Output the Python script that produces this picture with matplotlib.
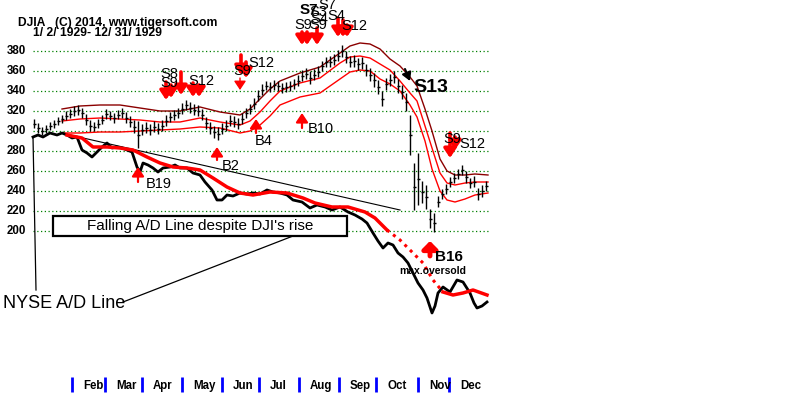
import numpy as np
import matplotlib
matplotlib.use("Agg")
import matplotlib.pyplot as plt
from matplotlib.patches import Rectangle

plt.rcParams['font.family'] = ['Liberation Sans', 'DejaVu Sans']

# ---------------- data ----------------
# x axis: chart position of each trading session (Jan 2 ... Dec 31, 1929)
bar_x = np.arange(34, 487, 4)
dji_high = [312, 308, 304, 306, 309, 311, 314, 316, 320, 322,
            325, 326, 323, 317, 311, 309, 312, 316, 322, 320,
            318, 321, 323, 319, 315, 311, 310, 307, 309, 307,
            310, 308, 311, 316, 319, 321, 323, 328, 331, 329,
            327, 326, 322, 314, 309, 305, 304, 308, 311, 316,
            315, 313, 318, 323, 327, 333, 341, 347, 350, 349,
            351, 350, 348, 349, 350, 352, 356, 361, 363, 360,
            362, 365, 370, 374, 375, 377, 381, 386, 380, 375,
            376, 373, 374, 367, 363, 358, 351, 340, 353, 357,
            360, 352, 346, 338, 316, 268, 278, 250, 246, 222,
            218, 235, 242, 247, 254, 258, 262, 266, 260, 253,
            255, 243, 246, 250]
dji_low = [303, 298, 296, 298, 301, 303, 306, 308, 311, 313,
           315, 316, 313, 306, 300, 300, 303, 307, 312, 311,
           308, 312, 313, 308, 304, 298, 283, 296, 298, 296,
           299, 297, 300, 305, 309, 311, 313, 317, 321, 318,
           316, 315, 311, 302, 297, 293, 291, 297, 300, 305,
           304, 302, 307, 313, 317, 322, 330, 336, 341, 339,
           341, 340, 338, 339, 340, 342, 345, 350, 352, 347,
           351, 354, 360, 364, 364, 366, 370, 374, 368, 364,
           364, 361, 362, 355, 350, 344, 337, 325, 341, 345,
           348, 338, 332, 320, 276, 221, 226, 228, 222, 203,
           199, 224, 232, 237, 244, 248, 252, 256, 248, 243,
           244, 231, 234, 240]

band_x = [62, 80, 100, 120, 140, 160, 180, 200, 220, 240, 250, 260, 270, 280, 300, 320,
          340, 350, 360, 370, 380, 390, 400, 410, 417, 425, 432, 440, 447, 455, 465, 475, 488]
band_upper = [322, 325, 326, 326, 323, 320, 320, 324, 319, 316, 322, 332, 342, 350, 358, 364,
              378, 385, 388, 387, 382, 372, 365, 354, 345, 322, 300, 272, 260, 256, 256, 257, 256]
band_mid = [310, 312, 313, 312, 311, 309, 309, 313, 309, 306, 310, 319, 330, 340, 348, 353,
            368, 374, 375, 373, 367, 361, 350, 338, 330, 305, 283, 258, 248, 246, 248, 249, 249]
band_lower = [298, 298, 299, 299, 300, 301, 302, 304, 303, 298, 300, 306, 315, 326, 334, 338,
              352, 359, 361, 360, 352, 347, 340, 326, 314, 290, 262, 240, 231, 229, 232, 236, 238]

ad_x = [33, 38, 43, 50, 57, 62, 67, 72, 77, 82, 87, 92, 97, 102, 107, 112, 117, 122, 127, 132,
        137, 140, 143, 148, 153, 158, 163, 170, 175, 180, 187, 193, 200, 205, 212, 217, 222, 227,
        233, 240, 247, 253, 260, 267, 273, 280, 287, 293, 302, 310, 317, 325, 332, 340, 348, 355,
        362, 367, 373, 378, 383, 388, 393, 398, 403, 408, 413, 418, 423, 427, 432, 435, 438, 443,
        450, 457, 463, 470, 474, 477, 482, 487]
ad_line = [294, 296, 294, 298, 296, 298, 296, 293, 294, 281, 278, 274, 279, 284, 288, 283, 284, 283,
           281, 279, 264, 259, 268, 266, 263, 259, 263, 264, 266, 263, 263, 258, 256, 249, 241, 231,
           231, 236, 235, 238, 237, 238, 237, 241, 239, 238, 236, 231, 229, 223, 226, 224, 221, 224,
           219, 216, 212, 208, 198, 190, 183, 188, 186, 178, 174, 168, 158, 148, 141, 133, 118, 125,
           138, 144, 139, 151, 149, 138, 128, 123, 125, 129]

adma_x = [67, 82, 93, 107, 120, 133, 147, 160, 173, 187, 200, 213, 227, 240, 253, 270, 287, 303,
          315, 332, 348, 365, 375, 387, 400, 413, 423, 433, 443, 453, 463, 473, 487]
ad_ma = [296, 293, 284, 284, 283, 281, 274, 268, 264, 263, 261, 253, 244, 238, 236, 239, 238, 233,
         228, 224, 224, 219, 213, 201, 191, 178, 168, 151, 139, 136, 138, 141, 136]

grid_values = [200, 220, 240, 260, 280, 300, 320, 340, 360, 380]
month_starts = [72, 105, 142, 182, 222, 259, 299, 339, 376, 418, 449]
month_labels = ["Feb", "Mar", "Apr", "May", "Jun", "Jul", "Aug", "Sep", "Oct", "Nov", "Dec"]

# ---------------- figure ----------------
fig = plt.figure(figsize=(8.0, 3.97), dpi=100)
ax = fig.add_axes([0, 0, 1, 1])
ax.set_xlim(0, 800)
ax.set_ylim(34, 431)
ax.axis('off')

# grid
ax.hlines(grid_values, 33, 489, colors='#008000', linestyles=(0, (1, 2)), lw=0.9, zorder=1)
for v in grid_values:
    ax.text(26, v, str(v), ha='right', va='center', fontsize=8.3, fontweight='bold', color='black')

# titles
ax.text(18, 408, "DJIA   (C) 2014, www.tigersoft.com", fontsize=8.7, fontweight='bold',
        ha='left', va='center')
ax.text(33, 398, "1/ 2/ 1929- 12/ 31/ 1929", fontsize=8.7, fontweight='bold',
        ha='left', va='center')

# bands
ax.plot(band_x, band_upper, color='#8B0000', lw=1.0, zorder=2)
ax.plot(band_x, band_mid, color='#FF0000', lw=1.0, zorder=2)
ax.plot(band_x, band_lower, color='#FF0000', lw=1.0, zorder=2)

# price bars
hi = np.array(dji_high)
lo = np.array(dji_low)
ax.vlines(bar_x, lo, hi, colors='black', lw=1.0, zorder=3)
ax.hlines((hi + lo) / 2.0, bar_x - 1.5, bar_x + 1.5, colors='black', lw=1.0, zorder=3)

# A/D line and its moving average
ax.plot(ad_x, ad_line, color='black', lw=2.0, zorder=4)
adma_x_arr = np.array(adma_x)
ad_ma_arr = np.array(ad_ma)
s1 = adma_x_arr <= 387
s2 = (adma_x_arr >= 387) & (adma_x_arr <= 443)
s3 = adma_x_arr >= 443
ax.plot(adma_x_arr[s1], ad_ma_arr[s1], color='#FF0000', lw=2.5, zorder=5)
ax.plot(adma_x_arr[s2], ad_ma_arr[s2], color='#FF0000', lw=2.2, ls=(0, (1, 1.5)), zorder=5)
ax.plot(adma_x_arr[s3], ad_ma_arr[s3], color='#FF0000', lw=2.5, zorder=5)

# trend line of A/D peaks
ax.plot([70, 400], [296, 221], color='black', lw=0.8, zorder=4)

# annotation box
ax.add_patch(Rectangle((53, 195), 294, 20, facecolor='white', edgecolor='black', lw=1.6, zorder=6))
ax.text(200, 205, "Falling A/D Line despite DJI's rise", fontsize=11, ha='center', va='center', zorder=7)

# NYSE A/D label and pointers
ax.text(3, 127, "NYSE A/D Line", fontsize=13, ha='left', va='center')
ax.plot([36, 33], [141, 294], color='black', lw=0.9)
ax.plot([123, 293], [129, 195], color='black', lw=0.9)

# signals
def arrow(x, y0, y1, color='red', lw=2.6, hw=0.4, hl=0.6, ms=9):
    ax.annotate('', xy=(x, y1), xytext=(x, y0),
                arrowprops=dict(arrowstyle=f'-|>,head_width={hw},head_length={hl}',
                                color=color, lw=lw, shrinkA=0, shrinkB=0, mutation_scale=ms),
                zorder=8)

for x, y0, y1 in [(166, 349, 331), (171, 346, 333), (181, 359, 336), (193, 348, 334), (199, 346, 334),
                  (241, 376, 356), (246, 369, 353), (302, 399, 386), (307, 399, 386), (317, 403, 386),
                  (338, 413, 394), (343, 411, 394), (347, 406, 394), (450, 298, 273), (455, 294, 281)]:
    arrow(x, y0, y1)
arrow(240, 353, 341, lw=1.0)
for x, y0, y1 in [(138, 249, 264), (217, 271, 284), (256, 298, 312), (302, 303, 318)]:
    arrow(x, y0, y1, lw=1.6)
arrow(430, 175, 190, lw=3.5, hw=0.5, hl=0.5)
ax.annotate('', xy=(410, 350), xytext=(405, 362),
            arrowprops=dict(arrowstyle='-|>,head_width=0.35,head_length=0.6', color='black', lw=1.5,
                            shrinkA=0, shrinkB=0, mutation_scale=8))

sig_font = 10.5
for txt, x, y in [("S8", 160, 357), ("S9", 160, 348), ("S12", 188, 350),
                  ("S9", 233, 360), ("S12", 248, 368),
                  ("S9", 294, 406), ("S9", 309, 406), ("S4", 310, 412), ("S4", 327, 415),
                  ("S12", 341, 405),
                  ("B4", 255, 290), ("B10", 308, 302), ("B2", 222, 265), ("B19", 146, 247),
                  ("S9", 443, 292), ("S12", 459, 287)]:
    ax.text(x, y, txt, fontsize=sig_font, ha='left', va='center', color='black', zorder=9)
ax.text(300, 421, "S7", fontsize=11, fontweight='bold', ha='left', va='center', zorder=9)
ax.text(309, 419, "S3", fontsize=10.5, ha='left', va='center', zorder=9)
ax.text(318, 426, "S7", fontsize=10.5, ha='left', va='center', zorder=9)
ax.text(413, 344, "S13", fontsize=14, fontweight='bold', ha='left', va='center', zorder=9)
ax.text(435, 174, "B16", fontsize=11, fontweight='bold', ha='left', va='center', zorder=9)
ax.text(433, 160, "max.oversold", fontsize=7.5, fontweight='bold', ha='center', va='center', zorder=9)

# month axis
ax.vlines(month_starts, 39, 54, colors='#0000FF', lw=2.0)
for m, lab in zip(month_starts, month_labels):
    ax.text(m + 11, 45, lab, fontsize=8.3, fontweight='bold', ha='left', va='center')

fig.savefig("out.png", dpi=100, facecolor='white')
